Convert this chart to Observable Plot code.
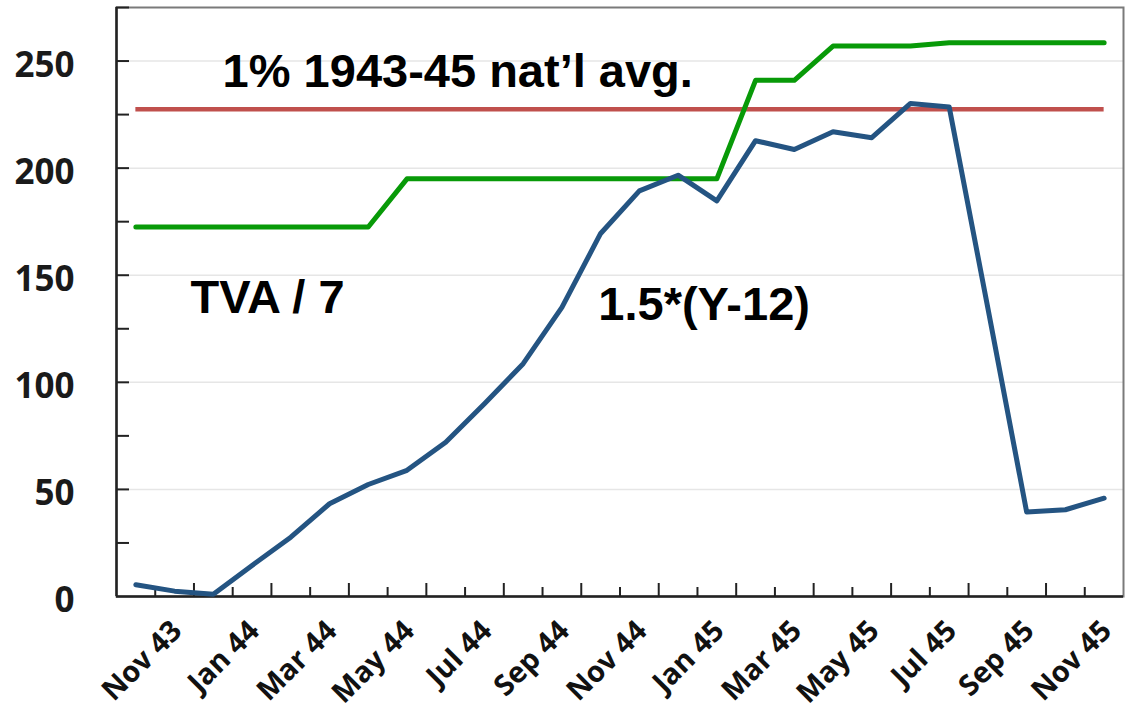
<!DOCTYPE html>
<html>
<head>
<meta charset="utf-8">
<script src="https://cdn.jsdelivr.net/npm/d3@7"></script>
<script src="https://cdn.jsdelivr.net/npm/@observablehq/plot@0.6"></script>
<style>
  html, body { margin: 0; padding: 0; background: #fff; }
  svg { display: block; }
</style>
</head>
<body>
<div id="chart"></div>
<script>
// ---- data ----
const months = ["Oct 43","Nov 43","Dec 43","Jan 44","Feb 44","Mar 44","Apr 44","May 44","Jun 44","Jul 44",
  "Aug 44","Sep 44","Oct 44","Nov 44","Dec 44","Jan 45","Feb 45","Mar 45","Apr 45","May 45",
  "Jun 45","Jul 45","Aug 45","Sep 45","Oct 45","Nov 45"];
const y12 = [5.5, 2.5, 1, 14.5, 27.7, 43.3, 52.3, 58.9, 72, 90,
  108.7, 135, 169.5, 189.4, 196.7, 184.7, 212.8, 208.7, 217, 214.2,
  230.2, 228.5, 134.5, 39.4, 40.5, 45.9];
const tva = [172.5, 172.5, 172.5, 172.5, 172.5, 172.5, 172.5, 195, 195, 195,
  195, 195, 195, 195, 195, 195, 241, 241, 257, 257,
  257, 258.5, 258.5, 258.5, 258.5, 258.5];
const natAvg = 227.5;
const yLabelTicks = [0, 50, 100, 150, 200, 250];
const yMinorTicks = [25, 50, 75, 100, 125, 150, 175, 200, 225, 250, 275];
const xLabelIdx = [1, 3, 5, 7, 9, 11, 13, 15, 17, 19, 21, 23, 25];
const xTallTicks = [1.5, 3.5, 5.5, 7.5, 9.5, 11.5, 13.5, 15.5, 17.5, 19.5, 21.5, 23.5];
const xShortTicks = [0.5, 2.5, 4.5, 6.5, 8.5, 10.5, 12.5, 14.5, 16.5, 18.5, 20.5, 22.5, 24.5];
const annoLabels = ["1% 1943-45 nat\u2019l avg.", "TVA / 7", "1.5*(Y-12)"];
const annoX = [2.24, 1.41, 11.94];
const annoY = [237.7, 132.2, 129.0];

// ---- tables built from the arrays ----
const idx = months.map((_, i) => i);
const y12Data = idx.map(i => ({i, v: y12[i]}));
const tvaData = idx.map(i => ({i, v: tva[i]}));
const annos = annoLabels.map((t, k) => ({t, x: annoX[k], y: annoY[k]}));

const chart = Plot.plot({
  width: 1131,
  height: 719,
  marginLeft: 116,
  marginRight: 8,
  marginTop: 7,
  marginBottom: 123,
  style: {background: "#fff", overflow: "visible"},
  x: {domain: [-0.5, 25.5], label: null},
  y: {domain: [0, 275], label: null},
  marks: [
    Plot.ruleY(yLabelTicks.filter(d => d > 0), {stroke: "#e6e6e6", strokeWidth: 1.5}),
    Plot.frame({stroke: "#7a7a7a", strokeWidth: 2}),
    // y tick marks (inside)
    Plot.axisY(yMinorTicks, {anchor: "left", tickSize: 13, dx: 13, fill: "none", stroke: "#222", strokeWidth: 2, label: null}),
    // y labels
    Plot.axisY(yLabelTicks, {anchor: "left", tickSize: 0, tickPadding: 42, dy: 4.5, fontSize: 35, fontWeight: 700,
      fontFamily: "Open Sans, sans-serif", fill: "#1a1a1a", label: null}),
    // x tick marks (inside)
    Plot.axisX(xTallTicks, {anchor: "bottom", tickSize: 13, dy: -13, fill: "none", stroke: "#222", strokeWidth: 2, label: null}),
    Plot.axisX(xShortTicks, {anchor: "bottom", tickSize: 9, dy: -9, fill: "none", stroke: "#222", strokeWidth: 2, label: null}),
    // x labels
    Plot.axisX(xLabelIdx, {anchor: "bottom", tickSize: 0, tickPadding: 36, dx: 9, tickRotate: -45,
      textAnchor: "end", lineAnchor: "bottom", tickFormat: i => months[i], fontSize: 29, fontWeight: 700,
      fontFamily: "Open Sans, sans-serif", fill: "#111", label: null}),
    // axis lines
    Plot.ruleX([-0.5], {stroke: "#222", strokeWidth: 2.5}),
    Plot.ruleY([0], {stroke: "#222", strokeWidth: 2.5}),
    // series
    Plot.ruleY([natAvg], {x1: 0, x2: 25, stroke: "#c0504d", strokeWidth: 4.5}),
    Plot.line(tvaData, {x: "i", y: "v", stroke: "#089a08", strokeWidth: 5, curve: "linear"}),
    Plot.line(y12Data, {x: "i", y: "v", stroke: "#245482", strokeWidth: 5, curve: "linear"}),
    // annotations
    Plot.text(annos, {x: "x", y: "y", text: "t", textAnchor: "start", lineAnchor: "bottom",
      fontSize: 47, fontWeight: "bold", fontFamily: "Liberation Sans, Arial, sans-serif", fill: "#000"})
  ]
});
document.getElementById("chart").appendChild(chart);
</script>
</body>
</html>
